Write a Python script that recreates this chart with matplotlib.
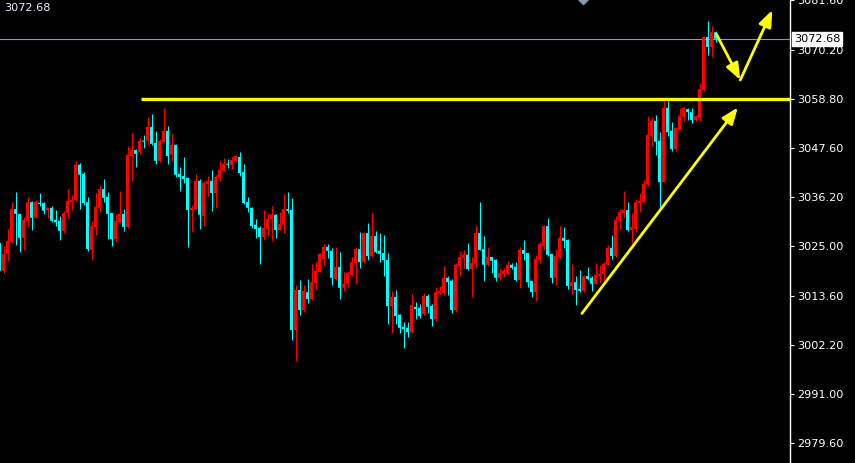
import numpy as np
import matplotlib
matplotlib.use('Agg')
import matplotlib.pyplot as plt
from matplotlib.transforms import blended_transform_factory

# 图表参数设置
matplotlib.rcParams['font.family'] = ['DejaVu Sans']
matplotlib.rcParams['axes.facecolor'] = 'black'
matplotlib.rcParams['figure.facecolor'] = 'black'

# K线数据 (开, 高, 低, 收)
opens = [3025.7, 3019.3, 3023.2, 3025.9, 3033.5, 3032.4, 3026.9, 3030.8, 3035.1, 3031.5,
         3034.9, 3034.9, 3033.3, 3033.8, 3031.0, 3030.8, 3028.5, 3032.6, 3035.1, 3035.6,
         3043.7, 3041.6, 3035.1, 3024.1, 3029.4, 3033.8, 3038.1, 3036.3, 3032.6, 3026.6,
         3030.5, 3032.4, 3029.4, 3045.7, 3047.1, 3046.6, 3049.2, 3049.2, 3052.4, 3048.7,
         3044.6, 3049.0, 3051.5, 3046.0, 3048.3, 3041.6, 3041.1, 3040.7, 3033.3, 3033.5,
         3040.0, 3031.9, 3039.3, 3040.0, 3037.2, 3040.7, 3042.3, 3043.9, 3043.7, 3044.6,
         3045.5, 3042.0, 3035.1, 3033.8, 3029.9, 3029.2, 3027.1, 3028.9, 3031.2, 3032.2,
         3028.7, 3029.9, 3033.5, 3033.3, 3005.7, 3014.9, 3010.3, 3014.4, 3012.8, 3016.5,
         3019.0, 3022.0, 3024.8, 3023.9, 3017.4, 3020.2, 3015.4, 3016.3, 3018.3, 3021.1,
         3024.3, 3021.3, 3028.0, 3022.7, 3027.3, 3023.9, 3023.4, 3021.8, 3011.2, 3013.3,
         3009.2, 3006.4, 3006.2, 3005.2, 3011.0, 3010.8, 3009.4, 3013.5, 3011.2, 3008.2,
         3014.2, 3014.2, 3017.7, 3017.0, 3010.3, 3020.4, 3022.3, 3023.0, 3019.7, 3020.9,
         3028.0, 3024.3, 3020.7, 3022.5, 3021.8, 3017.7, 3018.6, 3018.6, 3020.7, 3020.2,
         3017.2, 3024.1, 3023.4, 3017.0, 3014.4, 3021.8, 3025.0, 3029.6, 3023.2, 3017.7,
         3022.3, 3026.9, 3026.4, 3015.8, 3016.7, 3015.1, 3014.7, 3018.1, 3017.7, 3016.3,
         3018.1, 3018.6, 3020.7, 3024.6, 3022.7, 3030.8, 3032.6, 3033.3, 3028.7, 3028.9,
         3034.9, 3035.1, 3039.1, 3050.3, 3053.8, 3049.2, 3039.7, 3056.8, 3051.5, 3047.3,
         3051.7, 3054.7, 3056.5, 3055.8, 3054.0, 3054.5, 3060.9, 3073.1, 3070.8, 3074.2]
highs = [3026.4, 3025.0, 3028.9, 3035.1, 3037.4, 3032.4, 3031.7, 3036.3, 3035.4, 3035.6,
         3037.2, 3035.1, 3033.8, 3034.2, 3033.3, 3031.9, 3033.1, 3038.1, 3036.8, 3044.6,
         3044.1, 3042.0, 3036.3, 3030.8, 3037.2, 3039.1, 3040.4, 3037.4, 3032.6, 3032.4,
         3037.7, 3033.5, 3048.0, 3051.0, 3047.3, 3049.9, 3050.6, 3054.7, 3055.4, 3051.5,
         3049.6, 3056.8, 3052.6, 3050.8, 3048.3, 3043.2, 3045.5, 3040.7, 3034.5, 3041.6,
         3040.4, 3040.0, 3041.1, 3042.5, 3041.4, 3044.6, 3045.3, 3045.0, 3045.7, 3046.0,
         3046.6, 3043.9, 3036.3, 3034.0, 3031.2, 3029.6, 3033.3, 3032.6, 3034.2, 3032.4,
         3032.8, 3037.0, 3037.4, 3036.1, 3016.1, 3017.2, 3016.1, 3017.4, 3020.9, 3021.3,
         3023.4, 3025.5, 3025.5, 3024.6, 3024.8, 3023.6, 3019.0, 3019.3, 3022.5, 3024.8,
         3028.2, 3028.2, 3030.3, 3032.6, 3028.5, 3028.0, 3027.6, 3023.4, 3014.7, 3014.9,
         3009.4, 3007.5, 3007.5, 3014.0, 3012.1, 3011.7, 3014.2, 3014.0, 3011.7, 3015.6,
         3015.8, 3020.4, 3018.1, 3017.4, 3021.1, 3023.9, 3024.1, 3025.7, 3022.5, 3029.9,
         3035.1, 3027.3, 3024.8, 3022.5, 3022.0, 3020.0, 3020.0, 3021.6, 3021.1, 3021.3,
         3024.8, 3026.4, 3023.4, 3017.0, 3023.0, 3025.9, 3029.9, 3031.5, 3023.2, 3024.3,
         3029.6, 3029.4, 3026.6, 3020.9, 3018.1, 3019.5, 3018.4, 3020.2, 3018.1, 3021.1,
         3020.7, 3021.3, 3025.2, 3027.6, 3031.9, 3033.5, 3037.7, 3035.1, 3032.6, 3035.8,
         3037.2, 3040.2, 3054.9, 3054.7, 3055.2, 3051.2, 3058.4, 3058.4, 3053.5, 3052.4,
         3056.8, 3057.0, 3056.8, 3056.8, 3055.2, 3062.5, 3073.3, 3076.8, 3075.6, 3074.5]
lows = [3019.0, 3018.8, 3021.6, 3025.7, 3025.3, 3023.6, 3024.1, 3029.4, 3028.7, 3031.5,
        3034.2, 3032.4, 3031.5, 3030.5, 3029.6, 3026.4, 3028.0, 3031.2, 3033.3, 3035.4,
        3033.5, 3034.5, 3023.9, 3021.8, 3027.6, 3032.8, 3035.1, 3026.6, 3025.0, 3025.9,
        3030.3, 3028.5, 3029.2, 3040.0, 3043.2, 3046.2, 3047.6, 3048.3, 3048.3, 3043.9,
        3044.3, 3049.0, 3043.9, 3044.6, 3040.9, 3037.7, 3039.5, 3024.8, 3028.2, 3033.5,
        3028.9, 3029.6, 3036.5, 3033.1, 3033.8, 3040.0, 3042.3, 3043.0, 3042.7, 3044.3,
        3041.1, 3034.7, 3032.8, 3029.2, 3026.9, 3020.9, 3026.4, 3027.3, 3026.2, 3026.9,
        3028.7, 3028.0, 3032.6, 3003.4, 2998.6, 3009.2, 3009.8, 3011.9, 3012.6, 3015.1,
        3019.0, 3020.7, 3022.3, 3016.1, 3017.2, 3012.8, 3014.7, 3015.6, 3018.1, 3016.3,
        3020.0, 3021.1, 3021.8, 3022.5, 3023.4, 3021.3, 3018.1, 3007.1, 3005.0, 3007.1,
        3005.0, 3001.6, 3004.1, 3005.0, 3008.2, 3008.5, 3009.2, 3009.6, 3006.6, 3007.8,
        3013.7, 3013.7, 3013.7, 3009.6, 3009.8, 3018.1, 3020.0, 3019.5, 3013.3, 3020.0,
        3024.1, 3017.0, 3020.4, 3018.8, 3017.0, 3017.2, 3017.9, 3018.4, 3019.7, 3017.0,
        3015.4, 3021.8, 3015.6, 3013.3, 3012.4, 3021.1, 3024.1, 3022.7, 3016.5, 3016.1,
        3022.3, 3024.6, 3015.1, 3014.0, 3011.4, 3014.4, 3014.4, 3017.2, 3014.7, 3016.3,
        3016.7, 3016.7, 3020.7, 3022.0, 3022.5, 3028.7, 3031.5, 3028.5, 3025.7, 3028.2,
        3032.8, 3034.9, 3038.8, 3048.0, 3046.0, 3033.5, 3039.7, 3050.3, 3046.9, 3046.9,
        3051.7, 3053.8, 3054.0, 3053.3, 3053.8, 3053.8, 3060.7, 3069.0, 3068.5, 3071.9]
closes = [3019.3, 3023.2, 3026.2, 3033.5, 3032.4, 3026.9, 3031.0, 3035.1, 3031.5, 3035.1,
          3034.7, 3033.1, 3033.8, 3030.8, 3030.5, 3028.5, 3032.6, 3035.4, 3035.6, 3043.7,
          3041.4, 3034.9, 3024.3, 3029.6, 3034.0, 3038.1, 3036.1, 3032.4, 3026.6, 3030.8,
          3032.4, 3029.4, 3046.0, 3047.1, 3046.2, 3049.2, 3049.0, 3052.4, 3048.5, 3044.6,
          3049.2, 3051.5, 3045.7, 3048.3, 3041.4, 3040.9, 3040.4, 3033.3, 3033.8, 3040.0,
          3032.2, 3039.5, 3040.0, 3037.2, 3040.9, 3042.5, 3043.9, 3043.7, 3044.8, 3045.7,
          3041.8, 3034.9, 3033.8, 3029.6, 3028.9, 3027.1, 3029.2, 3031.2, 3032.2, 3028.7,
          3030.1, 3033.5, 3033.1, 3005.7, 3014.9, 3010.3, 3014.7, 3012.8, 3016.7, 3019.3,
          3023.2, 3024.8, 3023.9, 3017.7, 3020.2, 3015.4, 3016.3, 3018.8, 3021.3, 3024.3,
          3021.3, 3028.0, 3022.7, 3027.3, 3023.6, 3023.2, 3021.8, 3011.2, 3013.3, 3008.9,
          3006.2, 3005.9, 3005.2, 3011.4, 3010.5, 3008.9, 3013.5, 3011.0, 3008.2, 3014.4,
          3014.7, 3017.7, 3016.7, 3010.3, 3020.7, 3022.5, 3023.0, 3019.7, 3021.1, 3028.0,
          3024.1, 3020.7, 3022.5, 3021.6, 3017.7, 3018.8, 3019.3, 3020.7, 3020.0, 3017.2,
          3024.1, 3023.2, 3016.7, 3014.4, 3022.0, 3025.5, 3029.6, 3023.0, 3017.7, 3022.7,
          3026.9, 3026.2, 3015.8, 3016.7, 3014.9, 3014.7, 3018.1, 3017.4, 3016.3, 3018.4,
          3018.6, 3020.9, 3024.6, 3022.7, 3031.0, 3032.8, 3033.3, 3028.7, 3029.4, 3035.1,
          3035.4, 3039.3, 3050.6, 3053.8, 3049.0, 3039.7, 3056.8, 3051.2, 3047.3, 3052.2,
          3054.9, 3056.8, 3055.8, 3054.0, 3054.9, 3061.1, 3073.1, 3070.8, 3074.2, 3072.68]

# 右侧价格刻度
price_ticks = [3081.60, 3070.20, 3058.80, 3047.60, 3036.20, 3025.00, 3013.60, 3002.20, 2991.00, 2979.60]
current_price = 3072.68
resistance = 3058.80

# 手绘的黄色线条 (K线序号, 价格)
res_x = [35.4, 197.9]
trend_start = (145.6, 3009.5)
trend_end = (184.6, 3056.9)
wave_pts = [(179.2, 3073.8), (185.2, 3063.2), (193.2, 3079.3)]

o = np.array(opens)
h = np.array(highs)
l = np.array(lows)
c = np.array(closes)
x = np.arange(len(o))

fig = plt.figure(figsize=(8.55, 4.63), dpi=100)
ax = fig.add_axes([0, 0, 790 / 855, 1])

# 阳线红色, 阴线青色
colors = np.where(c >= o, '#ff0000', '#00ffff')
body_h = np.maximum(np.abs(c - o), 0.25)
ax.vlines(x, l, h, colors=colors, linewidth=0.72, zorder=2)
bars = ax.bar(x, body_h, bottom=np.minimum(o, c), width=0.75, color=colors, linewidth=0, zorder=3)
for b in bars:
    b.set_snap(False)

# 当前价格线
ax.axhline(current_price, color='#8a9bb0', linewidth=0.8, zorder=1)

# 压力线
ax.plot(res_x, [resistance, resistance], color='#ffff00', linewidth=2.4, solid_capstyle='butt', zorder=4)

# 趋势线和预期走势箭头
arrow_style = dict(arrowstyle='-|>,head_length=0.9,head_width=0.35', color='#ffff00', lw=2,
                   mutation_scale=11, shrinkA=0, shrinkB=0)
ax.annotate('', xy=trend_end, xytext=trend_start, arrowprops=arrow_style, zorder=4)
ax.annotate('', xy=wave_pts[1], xytext=wave_pts[0], arrowprops=arrow_style, zorder=4)
ax.annotate('', xy=wave_pts[2], xytext=wave_pts[1], arrowprops=arrow_style, zorder=4)

# 顶部的灰色标记
ax.plot([145.9], [3082.0], marker='D', markersize=6, color='#8a9bb0', clip_on=True, zorder=5)

# 每根K线占4个像素
ax.set_xlim(0.125, 0.125 + 790 / 4)
ax.set_ylim(2975.1, 3081.6)

# 坐标轴样式
for side in ['left', 'top', 'bottom']:
    ax.spines[side].set_visible(False)
ax.spines['right'].set_color('white')
ax.spines['right'].set_linewidth(1)
ax.set_xticks([])
ax.yaxis.tick_right()
ax.set_yticks(price_ticks)
ax.set_yticklabels(['%.2f' % p for p in price_ticks])
ax.tick_params(axis='y', colors='white', labelcolor='white', labelsize=8.1,
               length=3, width=0.8, pad=2, direction='out')

# 当前价格标签
trans = blended_transform_factory(ax.transAxes, ax.transData)
ax.text(1 + 4 / 790, current_price, '%.2f' % current_price, transform=trans,
        ha='left', va='center', fontsize=8.1, color='black', zorder=6, clip_on=False,
        bbox=dict(boxstyle='square,pad=0.18', facecolor='white', edgecolor='white'))

fig.text(4 / 855, 1 - 8 / 463, '%.2f' % current_price, color='#e6f0ff', fontsize=8.1,
         ha='left', va='center')

fig.savefig('out.png', dpi=100, facecolor='black')
